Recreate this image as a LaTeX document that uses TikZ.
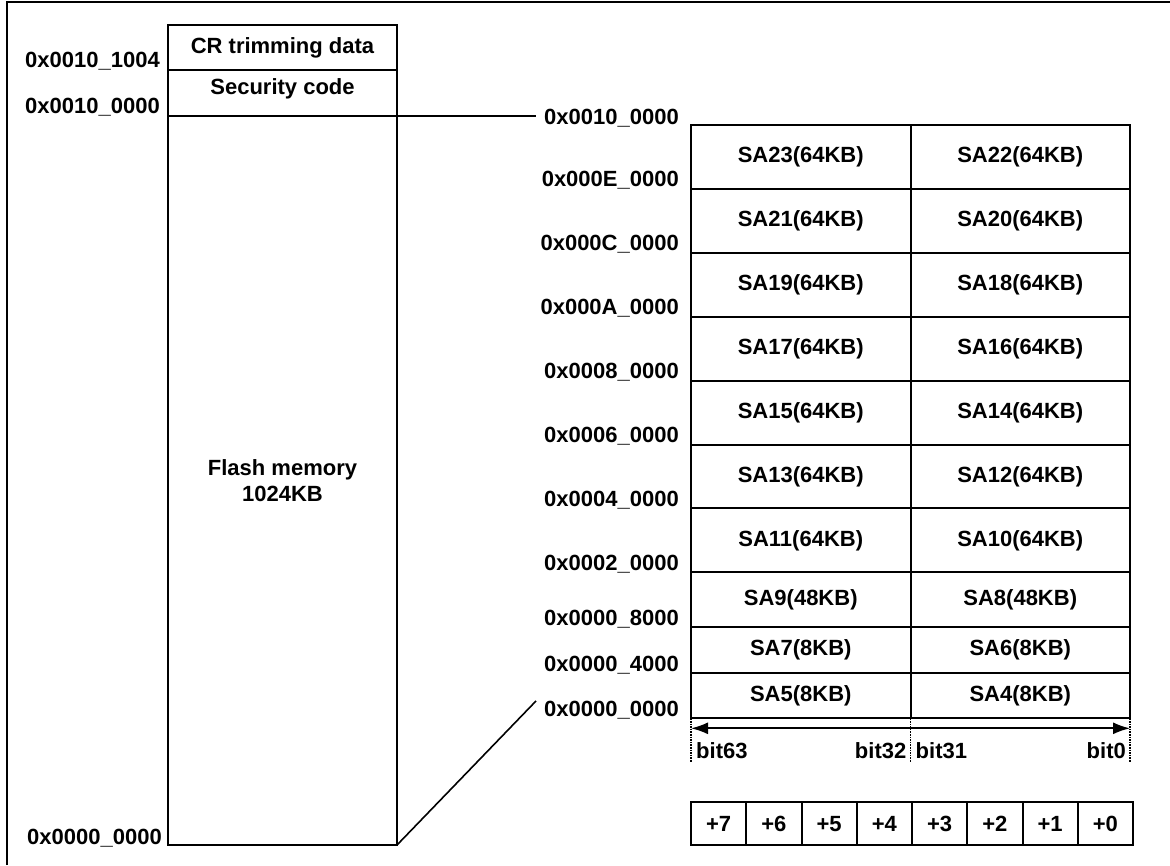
\documentclass[tikz,border=0pt]{standalone}
\usepackage{fontspec}
\setmainfont{Liberation Sans}
\usetikzlibrary{arrows.meta,positioning,calc}

\begin{document}
\begin{tikzpicture}[
    x=1pt, y=-1pt,
    >={Latex[length=17pt,width=12pt]},
    every node/.style={font=\bfseries\fontsize{22}{26}\selectfont},
    box/.style={
      rectangle, draw, line width=2pt, outer sep=0pt, inner sep=1pt,
      align=center
    },
    region/.style={box, minimum width=229pt},
    sector/.style={box, minimum width=219.5pt},
    byte/.style={box, minimum width=55.25pt, minimum height=43pt},
    addr/.style={inner sep=1pt, anchor=base east},
    bitlbl/.style={inner sep=1pt},
    link/.style={line width=1.6pt},
    guide/.style={line width=1.6pt, densely dotted}
  ]
  \useasboundingbox (0,0) rectangle (1170,865);
  \draw[line width=2pt] (7,865) -- (7,1.5) -- (1170,1.5);

  % whole memory map
  \node[region, minimum height=45pt, anchor=north west] (cr) at (168,25)
    {CR trimming data};
  \node[region, minimum height=46pt, text depth=13pt, below=0pt of cr] (sec)
    {Security code};
  \node[region, minimum height=729pt, below=0pt of sec] (flash)
    {Flash memory\\1024KB};

  \node[addr] (l1004) at ([xshift=-7pt,yshift=3pt]cr.south west) {0x0010\_1004};
  \node[addr] (l1000) at ([xshift=-7pt,yshift=3pt]sec.south west) {0x0010\_0000};
  \node[addr] (l0000) at ([xshift=-5pt,yshift=1pt]flash.south west) {0x0000\_0000};

  % sectors
  \node[sector, minimum height=63.9pt, anchor=north west] (sa23) at (691,125)
    {SA23(64KB)};
  \node[sector, minimum height=63.9pt, right=0pt of sa23] (sa22) {SA22(64KB)};
  \node[sector, minimum height=63.9pt, below=0pt of sa23] (sa21) {SA21(64KB)};
  \node[sector, minimum height=63.9pt, right=0pt of sa21] (sa20) {SA20(64KB)};
  \node[sector, minimum height=63.9pt, below=0pt of sa21] (sa19) {SA19(64KB)};
  \node[sector, minimum height=63.9pt, right=0pt of sa19] (sa18) {SA18(64KB)};
  \node[sector, minimum height=63.9pt, below=0pt of sa19] (sa17) {SA17(64KB)};
  \node[sector, minimum height=63.9pt, right=0pt of sa17] (sa16) {SA16(64KB)};
  \node[sector, minimum height=63.9pt, below=0pt of sa17] (sa15) {SA15(64KB)};
  \node[sector, minimum height=63.9pt, right=0pt of sa15] (sa14) {SA14(64KB)};
  \node[sector, minimum height=63.9pt, below=0pt of sa15] (sa13) {SA13(64KB)};
  \node[sector, minimum height=63.9pt, right=0pt of sa13] (sa12) {SA12(64KB)};
  \node[sector, minimum height=63.9pt, below=0pt of sa13] (sa11) {SA11(64KB)};
  \node[sector, minimum height=63.9pt, right=0pt of sa11] (sa10) {SA10(64KB)};
  \node[sector, minimum height=55pt, below=0pt of sa11] (sa9) {SA9(48KB)};
  \node[sector, minimum height=55pt, right=0pt of sa9] (sa8) {SA8(48KB)};
  \node[sector, minimum height=46pt, below=0pt of sa9] (sa7) {SA7(8KB)};
  \node[sector, minimum height=46pt, right=0pt of sa7] (sa6) {SA6(8KB)};
  \node[sector, minimum height=45pt, below=0pt of sa7] (sa5) {SA5(8KB)};
  \node[sector, minimum height=45pt, right=0pt of sa5] (sa4) {SA4(8KB)};

  \node[addr] (a100000) at ([xshift=-11pt,yshift=1pt]sa23.north west) {0x0010\_0000};
  \node[addr] (a0E0000) at ([xshift=-11pt,yshift=2pt]sa21.north west) {0x000E\_0000};
  \node[addr] (a0C0000) at ([xshift=-11pt,yshift=2pt]sa19.north west) {0x000C\_0000};
  \node[addr] (a0A0000) at ([xshift=-11pt,yshift=2pt]sa17.north west) {0x000A\_0000};
  \node[addr] (a080000) at ([xshift=-11pt,yshift=2pt]sa15.north west) {0x0008\_0000};
  \node[addr] (a060000) at ([xshift=-11pt,yshift=2pt]sa13.north west) {0x0006\_0000};
  \node[addr] (a040000) at ([xshift=-11pt,yshift=2pt]sa11.north west) {0x0004\_0000};
  \node[addr] (a020000) at ([xshift=-11pt,yshift=2pt]sa9.north west) {0x0002\_0000};
  \node[addr] (a008000) at ([xshift=-11pt,yshift=2pt]sa7.north west) {0x0000\_8000};
  \node[addr] (a004000) at ([xshift=-11pt,yshift=2pt]sa5.north west) {0x0000\_4000};
  \node[addr] (a000000) at ([xshift=-11pt,yshift=2pt]sa5.south west) {0x0000\_0000};

  \draw[link] (flash.north east) -- ($(flash.north east -| a100000.west)+(-7,0)$);
  \draw[link] (flash.south east) -- ($(a000000.west)+(-7,-9)$);

  % bit numbering
  \draw[guide] (sa5.south west) -- ++(0,44);
  \draw[guide] (sa5.south east) -- ++(0,44);
  \draw[guide] (sa4.south east) -- ++(0,44);
  \draw[<->, line width=1.8pt] ([yshift=-10pt]sa5.south west) -- ([yshift=-10pt]sa4.south east);

  \node[bitlbl, anchor=base west] (b63) at ([xshift=4pt,yshift=-40pt]sa5.south west) {bit63};
  \node[bitlbl, anchor=base east] (b32) at ([xshift=-3pt,yshift=-40pt]sa5.south east) {bit32};
  \node[bitlbl, anchor=base west] (b31) at ([xshift=4pt,yshift=-40pt]sa4.south west) {bit31};
  \node[bitlbl, anchor=base east] (b0) at ([xshift=-3pt,yshift=-40pt]sa4.south east) {bit0};

  % byte offsets
  \node[byte, anchor=north west] (p7) at ([yshift=-84pt]sa5.south west) {+7};
  \node[byte, right=0pt of p7] (p6) {+6};
  \node[byte, right=0pt of p6] (p5) {+5};
  \node[byte, right=0pt of p5] (p4) {+4};
  \node[byte, right=0pt of p4] (p3) {+3};
  \node[byte, right=0pt of p3] (p2) {+2};
  \node[byte, right=0pt of p2] (p1) {+1};
  \node[byte, right=0pt of p1] (p0) {+0};
\end{tikzpicture}
\end{document}
